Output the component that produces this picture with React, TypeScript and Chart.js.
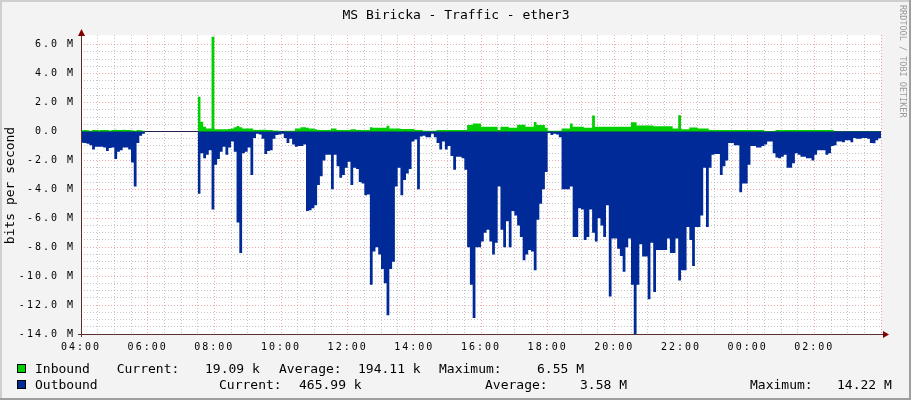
import React, { useEffect, useRef } from 'react';
import { Chart, registerables } from 'chart.js';

Chart.register(...registerables);

const TITLE = 'MS Biricka - Traffic - ether3';
const Y_TITLE = 'bits per second';
const WATERMARK = 'RRDTOOL / TOBI OETIKER';
const X_TICK_LABELS = ['04:00', '06:00', '08:00', '10:00', '12:00', '14:00', '16:00', '18:00', '20:00', '22:00', '00:00', '02:00'];
const SLOTS = 288; // 5-minute steps over 24 h
const Y_MIN = -14;
const Y_MAX = 6.67;

// Inbound traffic, Mbit/s per 5-minute slot (null = no data)
const inbound: (number | null)[] = [
  0.08, 0.1, 0.08, 0.05, 0.1, 0.1, 0.08, 0.1, 0.1, 0.1, 0.06, 0.1, 0.12, 0.1, 0.1, 0.12, 0.1, 0.1, 0.08, 0.05, 0.1, 0.08, 0.05,
  null, null, null, null, null, null, null, null, null, null, null, null, null, null, null, null, null, null, null,
  2.4, 0.68, 0.33, 0.2, 0.2, 6.55,
  0.15, 0.15, 0.15, 0.15, 0.15, 0.18, 0.2, 0.3, 0.38, 0.3,
  0.2, 0.2, 0.2, 0.2, 0.1, 0.1, 0.12, 0.12, 0.12, 0.1,
  0.1, 0.06, 0.06, 0.05, 0, 0.05, 0.05, 0.05, 0.05, 0.2,
  0.2, 0.3, 0.3, 0.25, 0.2, 0.2, 0.15, 0.1, 0.1, 0.1,
  0.1, 0.1, 0.2, 0.2, 0.1, 0.1, 0.1, 0.1, 0.1, 0.15,
  0.15, 0.1, 0.1, 0.1, 0.1, 0.1, 0.3, 0.26, 0.26, 0.26,
  0.26, 0.26, 0.4, 0.2, 0.2, 0.2, 0.2, 0.18, 0.18, 0.18,
  0.18, 0.18, 0.1, 0.1, 0.1, 0.05, 0.05, 0.05, 0.05, 0.05,
  0.1, 0.1, 0.1, 0.1, 0.1, 0.1, 0.1, 0.1, 0.1, 0.1,
  0.1, 0.45, 0.45, 0.55, 0.55, 0.55, 0.33, 0.33, 0.33, 0.33,
  0.33, 0.33, 0.1, 0.33, 0.33, 0.33, 0.26, 0.26, 0.26, 0.47,
  0.47, 0.47, 0.33, 0.33, 0.33, 0.65, 0.45, 0.45, 0.45, 0.26,
  0.05, 0.05, 0.05, 0.05, 0.05, 0.2, 0.2, 0.2, 0.55, 0.33,
  0.33, 0.33, 0.33, 0.26, 0.26, 0.26, 1.1, 0.33, 0.33, 0.33,
  0.33, 0.33, 0.33, 0.33, 0.33, 0.33, 0.33, 0.33, 0.33, 0.33,
  0.63, 0.63, 0.42, 0.42, 0.42, 0.42, 0.42, 0.42, 0.37, 0.37,
  0.37, 0.37, 0.37, 0.37, 0.37, 0.2, 0.2, 1.13, 0.15, 0.15,
  0.15, 0.28, 0.28, 0.28, 0.2, 0.2, 0.2, 0.2, 0.1, 0.1,
  0.1, 0.1, 0.1, 0.1, 0.1, 0.1, 0.1, 0.1, 0.1, 0.1,
  0.1, 0.1, 0.1, 0.1, 0.1, 0.1, 0.1, 0.1, 0.03, 0.03,
  0.03, 0.03, 0.1, 0.1, 0.1, 0.1, 0.1, 0.1, 0.1, 0.1,
  0.1, 0.1, 0.1, 0.1, 0.1, 0.1, 0.1, 0.1, 0.1, 0.1,
  0.1, 0.1, 0.1, 0.02, 0.02, 0.02, 0.02, 0.02, 0.02, 0.02,
  0.02, 0.02, 0.02, 0.02, 0.02, 0.02, 0.02, 0.02, 0.02, 0.02,
];

// Outbound traffic (drawn negative), Mbit/s per 5-minute slot
const outbound: (number | null)[] = [
  -0.78, -0.8, -0.85, -0.95, -1.25, -1.05, -1.05, -1.05, -1.1, -1.35, -1.15, -1.1, -1.9, -1.4, -1.3, -1.1, -1.1, -1.25, -2.15, -3.8, -0.8, -0.3, -0.15,
  null, null, null, null, null, null, null, null, null, null, null, null, null, null, null, null, null, null, null,
  -4.3, -1.5, -1.85, -1.6, -1.3, -5.4,
  -2.3, -1.9, -1.4, -1.05, -1.6, -1.1, -0.7, -1.4, -6.3, -8.4,
  -1.5, -1.4, -1.1, -3.0, -0.45, -0.15, -0.2, -0.5, -1.55, -1.35,
  -1.3, -0.5, -0.25, -0.2, -0.15, -0.45, -0.8, -0.5, -0.9, -1.05,
  -1.0, -1.0, -0.9, -5.5, -5.45, -5.3, -5.1, -3.7, -3.1, -2.0,
  -1.6, -1.6, -4.0, -1.6, -2.4, -3.2, -3.0, -2.5, -2.1, -3.7,
  -2.5, -2.6, -3.5, -3.6, -4.4, -4.35, -10.6, -8.3, -8.0, -8.5,
  -9.5, -10.5, -12.7, -9.5, -9.0, -3.8, -2.5, -4.4, -3.35, -2.9,
  -2.6, -0.7, -0.55, -4.0, -0.35, -0.3, -0.4, -0.4, -0.15, -0.4,
  -0.8, -1.25, -0.7, -1.25, -1.0, -1.7, -2.65, -1.75, -1.75, -1.85,
  -2.65, -8.0, -10.6, -12.9, -8.0, -8.0, -7.6, -7.0, -6.8, -7.6,
  -8.5, -7.7, -3.8, -6.8, -8.0, -6.2, -8.0, -5.5, -5.8, -6.5,
  -7.3, -8.9, -8.5, -8.2, -8.3, -9.6, -6.1, -5.0, -4.0, -2.8,
  -0.1, -0.25, -0.15, -0.2, -0.4, -4.0, -4.0, -4.0, -3.8, -7.3,
  -7.3, -5.3, -5.4, -7.5, -7.3, -5.4, -7.0, -7.6, -6.0, -6.5,
  -7.3, -5.1, -11.4, -7.4, -7.4, -8.1, -8.6, -9.7, -8.0, -7.4,
  -10.6, -14.22, -10.6, -7.8, -8.65, -8.65, -11.6, -7.7, -11.1, -8.2,
  -8.2, -8.2, -8.2, -7.4, -8.4, -8.4, -7.4, -10.3, -9.6, -9.6,
  -6.6, -7.5, -9.3, -6.6, -6.6, -5.8, -2.5, -6.6, -2.5, -1.6,
  -1.55, -1.55, -3.0, -2.4, -2.0, -0.8, -0.8, -0.95, -0.95, -4.2,
  -3.6, -3.6, -2.3, -1.0, -1.0, -1.1, -1.1, -1.0, -0.9, -0.7,
  -0.7, -1.5, -1.8, -1.85, -1.75, -1.6, -2.5, -2.5, -2.2, -1.5,
  -1.6, -1.75, -1.75, -1.85, -1.85, -2.0, -1.6, -1.3, -1.3, -1.3,
  -1.6, -1.5, -1.0, -0.95, -0.7, -0.7, -0.75, -0.6, -0.6, -0.75,
  -0.45, -0.5, -0.5, -0.45, -0.45, -0.5, -0.8, -0.82, -0.6, -0.47,
];

const LEGEND_NAMES = ['Inbound', 'Outbound'];
const LEGEND_COLORS = ['#00CF00', '#002A97'];
const LEGEND_CURRENT = ['19.09 k', '465.99 k'];
const LEGEND_AVERAGE = ['194.11 k', '3.58 M'];
const LEGEND_MAXIMUM = ['6.55 M', '14.22 M'];

const W = 911;
const H = 400;
const MONO = "'DejaVu Sans Mono', monospace";
const MINOR_GRID = 'rgba(150,150,150,0.55)';
const MAJOR_GRID = 'rgba(230,110,110,0.6)';

// turn per-slot values into a step outline (each slot spans [i, i+1])
function stepPoints(values: (number | null)[]) {
  const pts: { x: number; y: number | null }[] = [];
  values.forEach((v, i) => {
    if (v === null) {
      pts.push({ x: i + 0.5, y: null });
    } else {
      pts.push({ x: i, y: v });
      pts.push({ x: i + 1, y: v });
    }
  });
  return pts;
}

const rrdPlugin = {
  id: 'rrdDecor',
  beforeDraw(chart: any) {
    const { ctx, chartArea: a } = chart;
    ctx.save();
    ctx.fillStyle = '#F3F3F3';
    ctx.fillRect(0, 0, W, H);
    ctx.fillStyle = '#FFFFFF';
    ctx.fillRect(a.left, a.top, a.right - a.left, a.bottom - a.top);
    ctx.fillStyle = '#CFCFCF';
    ctx.fillRect(0, 0, W, 2);
    ctx.fillRect(0, 0, 2, H);
    ctx.fillStyle = '#9E9E9E';
    ctx.fillRect(0, H - 2, W, 2);
    ctx.fillRect(W - 2, 0, 2, H);
    ctx.restore();
    ctx.letterSpacing = '2px';
  },
  beforeDatasetsDraw(chart: any) {
    const { ctx, chartArea: a, scales } = chart;
    const y0 = Math.round(scales.y.getPixelForValue(0)) + 0.5;
    ctx.save();
    ctx.strokeStyle = '#202050';
    ctx.lineWidth = 1;
    ctx.beginPath();
    ctx.moveTo(a.left, y0);
    ctx.lineTo(a.right, y0);
    ctx.stroke();
    ctx.restore();
  },
  afterDraw(chart: any) {
    const { ctx, chartArea: a } = chart;
    ctx.save();
    ctx.letterSpacing = '0px';
    // axes
    const ax = Math.round(a.left) + 0.5;
    const ay = Math.round(a.bottom) + 0.5;
    ctx.strokeStyle = '#5a3030';
    ctx.lineWidth = 1;
    ctx.beginPath();
    ctx.moveTo(ax, a.bottom + 3);
    ctx.lineTo(ax, a.top - 2);
    ctx.moveTo(a.left - 3, ay);
    ctx.lineTo(a.right + 3, ay);
    ctx.stroke();
    ctx.fillStyle = '#800000';
    ctx.beginPath();
    ctx.moveTo(ax, a.top - 6);
    ctx.lineTo(ax - 3.5, a.top + 1);
    ctx.lineTo(ax + 3.5, a.top + 1);
    ctx.closePath();
    ctx.fill();
    ctx.beginPath();
    ctx.moveTo(a.right + 8, ay);
    ctx.lineTo(a.right + 2, ay - 3.5);
    ctx.lineTo(a.right + 2, ay + 3.5);
    ctx.closePath();
    ctx.fill();

    // title
    ctx.fillStyle = '#000';
    ctx.font = `13px ${MONO}`;
    ctx.textAlign = 'center';
    ctx.textBaseline = 'alphabetic';
    ctx.fillText(TITLE, 456, 19);

    // y axis title
    ctx.save();
    ctx.translate(11, (a.top + a.bottom) / 2 + 1);
    ctx.rotate(-Math.PI / 2);
    ctx.textAlign = 'center';
    ctx.textBaseline = 'middle';
    ctx.fillText(Y_TITLE, 0, 0);
    ctx.restore();

    // watermark
    ctx.save();
    ctx.translate(900, 5);
    ctx.rotate(Math.PI / 2);
    ctx.fillStyle = '#9a9a9a';
    ctx.font = `8.5px ${MONO}`;
    ctx.textAlign = 'left';
    ctx.textBaseline = 'alphabetic';
    ctx.fillText(WATERMARK, 0, 0);
    ctx.restore();

    // legend
    ctx.font = `13px ${MONO}`;
    ctx.textAlign = 'left';
    ctx.textBaseline = 'alphabetic';
    const rows = [
      { y: 373, cols: [35, 116.7, 205, 279, 358, 439, 537] },
      { y: 389, cols: [35, 219, 299, 485, 580, 750, 837] },
    ];
    rows.forEach((r, i) => {
      ctx.fillStyle = LEGEND_COLORS[i];
      ctx.fillRect(17.5, r.y - 8.5, 8, 8);
      ctx.strokeStyle = '#000';
      ctx.lineWidth = 1;
      ctx.strokeRect(17.5, r.y - 8.5, 8, 8);
      ctx.fillStyle = '#000';
      const texts = [LEGEND_NAMES[i], 'Current:', LEGEND_CURRENT[i], 'Average:', LEGEND_AVERAGE[i], 'Maximum:', LEGEND_MAXIMUM[i]];
      texts.forEach((t, k) => ctx.fillText(t, r.cols[k], r.y));
    });
    ctx.restore();
  },
};

function isHalfStep(v: number) {
  return Math.abs(v * 2 - Math.round(v * 2)) < 1e-6;
}
function isMajorY(v: number) {
  return isHalfStep(v) && Math.abs(v / 2 - Math.round(v / 2)) < 1e-6;
}

export default function App() {
  const ref = useRef<HTMLCanvasElement | null>(null);

  useEffect(() => {
    if (!ref.current) return;
    const chart = new Chart(ref.current, {
      type: 'line',
      data: {
        datasets: [
          {
            label: 'Inbound',
            data: stepPoints(inbound) as any,
            borderColor: 'rgba(0,0,0,0)',
            borderWidth: 0,
            backgroundColor: LEGEND_COLORS[0],
            fill: 'origin',
            pointRadius: 0,
            tension: 0,
            spanGaps: false,
          },
          {
            label: 'Outbound',
            data: stepPoints(outbound) as any,
            borderColor: 'rgba(0,0,0,0)',
            borderWidth: 0,
            backgroundColor: LEGEND_COLORS[1],
            fill: 'origin',
            pointRadius: 0,
            tension: 0,
            spanGaps: false,
          },
        ],
      },
      options: {
        responsive: false,
        animation: false,
        devicePixelRatio: 1,
        events: [],
        layout: { padding: { left: 0, top: 35, right: 30, bottom: 0 } },
        plugins: { legend: { display: false }, tooltip: { enabled: false }, title: { display: false } },
        scales: {
          x: {
            type: 'linear',
            min: 0,
            max: SLOTS,
            afterFit: (s: any) => {
              s.height = 66;
            },
            ticks: {
              stepSize: 6,
              autoSkip: false,
              maxRotation: 0,
              padding: 7,
              color: '#000',
              font: { family: MONO, size: 10 },
              callback: (v: any) => {
                const n = Number(v);
                return n % 24 === 0 && n < SLOTS ? X_TICK_LABELS[n / 24] : '';
              },
            },
            grid: {
              drawTicks: false,
              lineWidth: 1,
              color: (c: any) => (c.tick && c.tick.value % 24 === 0 ? MAJOR_GRID : MINOR_GRID),
            },
            border: { display: false, dash: [1, 2] },
          },
          y: {
            type: 'linear',
            min: Y_MIN,
            max: Y_MAX,
            afterFit: (s: any) => {
              s.width = 81;
            },
            ticks: {
              stepSize: 0.5,
              autoSkip: false,
              padding: 6,
              color: '#000',
              font: { family: MONO, size: 10 },
              callback: (v: any) => {
                const n = Number(v);
                if (!isMajorY(n)) return '';
                const r = Math.round(n);
                return r === 0 ? '0.0  ' : r.toFixed(1) + ' M';
              },
            },
            grid: {
              drawTicks: false,
              lineWidth: 1,
              color: (c: any) => {
                const v = c.tick ? c.tick.value : 0;
                if (!isHalfStep(v)) return 'rgba(0,0,0,0)';
                return isMajorY(v) ? MAJOR_GRID : MINOR_GRID;
              },
            },
            border: { display: false, dash: [1, 2] },
          },
        },
      },
      plugins: [rrdPlugin],
    } as any);
    return () => chart.destroy();
  }, []);

  return (
    <div style={{ position: 'fixed', left: 0, top: 0, width: W, height: H }}>
      <canvas ref={ref} width={W} height={H} style={{ display: 'block', width: W, height: H }} />
    </div>
  );
}
